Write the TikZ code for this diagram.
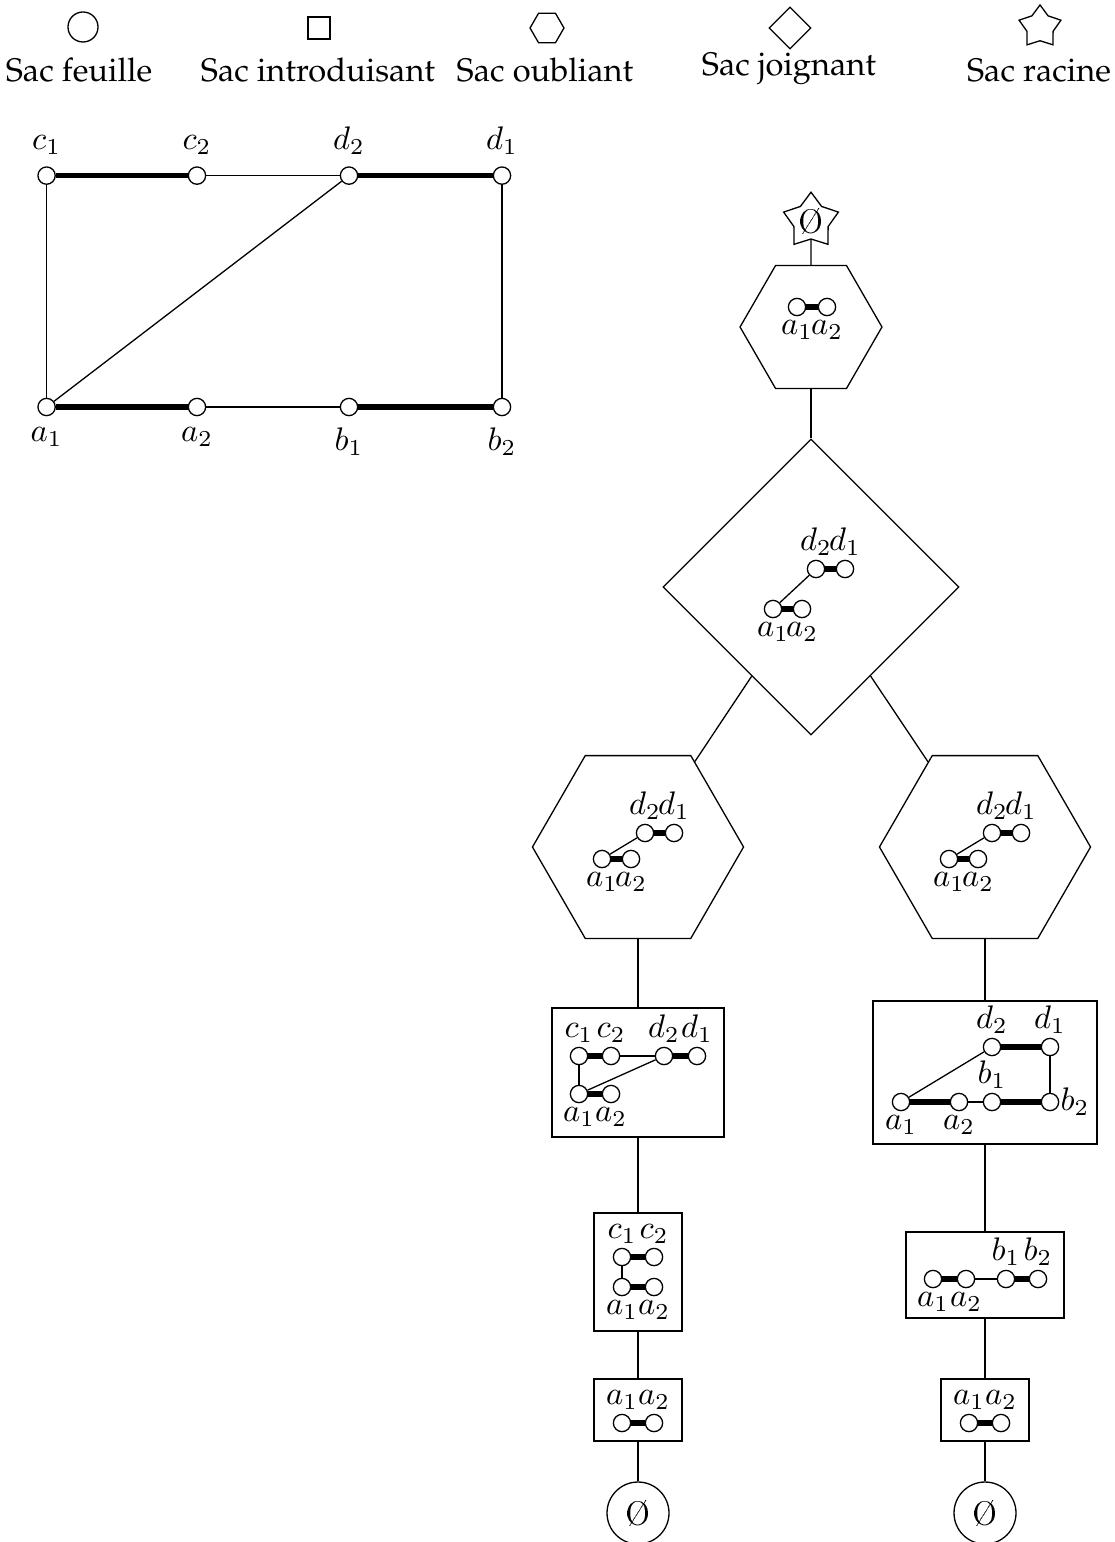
\documentclass[tikz,border=0pt]{standalone}
\usepackage[T1]{fontenc}
\usepackage{palatino}
\usetikzlibrary{shapes.geometric}

\newcommand{\vide}{{\fontfamily{lmr}\selectfont\O}}

\tikzset{
  sommet/.style={circle, draw, fill=white, inner sep=0pt, minimum size=5.3pt},
  lourd/.style={line width=1.6pt},
  lourdp/.style={line width=2pt},
  feuille/.style={circle, draw, inner sep=0pt},
  intro/.style={rectangle, draw, inner sep=0pt},
  oubli/.style={regular polygon, regular polygon sides=6, draw, inner sep=0pt},
  joint/.style={diamond, draw, inner sep=0pt},
  racine/.style={star, star points=5, star point ratio=1.6, draw, inner sep=0pt},
}

\begin{document}
\begin{tikzpicture}[x=0.01077cm, y=-0.01077cm]
\useasboundingbox (0,0) rectangle (1114,1542);

% legende
\node[feuille, minimum size=9.2pt] (lfeuille) at (83,27) {};
\node[intro, minimum size=6.7pt] (lintro) at (319,28) {};
\node[oubli, minimum size=10.4pt] (loubli) at (547,28) {};
\node[joint, minimum width=12.9pt, minimum height=12.9pt] (ljoint) at (790,28) {};
\node[racine, minimum size=13.5pt] (lracine) at (1040,27) {};
\node[anchor=base] (tfeuille) at (79,82) {Sac feuille};
\node[anchor=base] (tintro) at (318,82) {Sac introduisant};
\node[anchor=base] (toubli) at (545,82) {Sac oubliant};
\node[anchor=base] (tjoint) at (789,76) {Sac joignant};
\node[anchor=base] (tracine) at (1039,82) {Sac racine};

% graphe
\node[sommet, label={above:$c_1$}] (c1) at (46.6,175.6) {};
\node[sommet, label={above:$c_2$}] (c2) at (197,175.6) {};
\node[sommet, label={above:$d_2$}] (d2) at (349,175.6) {};
\node[sommet, label={above:$d_1$}] (d1) at (502,175.6) {};
\node[sommet, label={below:$a_1$}] (a1) at (46.6,407) {};
\node[sommet, label={below:$a_2$}] (a2) at (197,407) {};
\node[sommet, label={below:$b_1$}] (b1) at (349,407) {};
\node[sommet, label={below:$b_2$}] (b2) at (502,407) {};
\draw[lourd] (c1) -- (c2);
\draw (c2) -- (d2);
\draw[lourd] (d2) -- (d1);
\draw (c1) -- (a1);
\draw (d1) -- (b2);
\draw[lourd] (a1) -- (a2);
\draw (a2) -- (b1);
\draw[lourd] (b1) -- (b2);
\draw (a1) -- (d2);

% arbre
\node[racine, minimum size=16pt] (r) at (811,221) {\vide};
\node[oubli, minimum size=43.5pt] (o) at (811,327) {};
\node[joint, minimum width=90.7pt, minimum height=90.7pt] (j) at (811,587) {};
\node[oubli, minimum size=64.7pt] (ol) at (638,847) {};
\node[oubli, minimum size=64.7pt] (or) at (985,847) {};
\node[intro, minimum width=52.7pt, minimum height=39.5pt] (il1) at (638,1072.5) {};
\node[intro, minimum width=27pt, minimum height=36.2pt] (il2) at (638,1272) {};
\node[intro, minimum width=27pt, minimum height=19pt] (il3) at (638,1410) {};
\node[feuille, minimum size=19pt] (fl) at (638,1513) {\vide};
\node[intro, minimum width=68.7pt, minimum height=43.8pt] (ir1) at (985,1072.5) {};
\node[intro, minimum width=48.4pt, minimum height=26.4pt] (ir2) at (985,1275) {};
\node[intro, minimum width=27pt, minimum height=19pt] (ir3) at (985,1410) {};
\node[feuille, minimum size=19pt] (fr) at (985,1513) {\vide};
\draw (r) -- (o);
\draw (o) -- (j);
\draw (j) -- (ol);
\draw (j) -- (or);
\draw (ol) -- (il1);
\draw (il1) -- (il2);
\draw (il2) -- (il3);
\draw (il3) -- (fl);
\draw (or) -- (ir1);
\draw (ir1) -- (ir2);
\draw (ir2) -- (ir3);
\draw (ir3) -- (fr);

\begin{scope}[every label/.style={inner sep=1.2pt}]
% sac oubliant du haut
\node[sommet, label={below:$a_1$}] (o-a1) at (797,307) {};
\node[sommet, label={below:$a_2$}] (o-a2) at (827,307) {};
\draw[lourdp] (o-a1) -- (o-a2);
% sac joignant
\node[sommet, label={above:$d_2$}] (j-d2) at (816,569) {};
\node[sommet, label={above:$d_1$}] (j-d1) at (845,569) {};
\node[sommet, label={below:$a_1$}] (j-a1) at (773,609) {};
\node[sommet, label={below:$a_2$}] (j-a2) at (802,609) {};
\draw[lourdp] (j-d2) -- (j-d1);
\draw[lourdp] (j-a1) -- (j-a2);
\draw (j-a1) -- (j-d2);
% sacs oubliants
\node[sommet, label={above:$d_2$}] (ol-d2) at (645,833) {};
\node[sommet, label={above:$d_1$}] (ol-d1) at (674,833) {};
\node[sommet, label={below:$a_1$}] (ol-a1) at (602,859) {};
\node[sommet, label={below:$a_2$}] (ol-a2) at (631,859) {};
\draw[lourdp] (ol-d2) -- (ol-d1);
\draw[lourdp] (ol-a1) -- (ol-a2);
\draw (ol-a1) -- (ol-d2);
\node[sommet, label={above:$d_2$}] (or-d2) at (992,833) {};
\node[sommet, label={above:$d_1$}] (or-d1) at (1021,833) {};
\node[sommet, label={below:$a_1$}] (or-a1) at (949,859) {};
\node[sommet, label={below:$a_2$}] (or-a2) at (978,859) {};
\draw[lourdp] (or-d2) -- (or-d1);
\draw[lourdp] (or-a1) -- (or-a2);
\draw (or-a1) -- (or-d2);
% branche gauche
\node[sommet, label={above:$c_1$}] (il1-c1) at (579,1056) {};
\node[sommet, label={above:$c_2$}] (il1-c2) at (611,1056) {};
\node[sommet, label={above:$d_2$}] (il1-d2) at (664,1056) {};
\node[sommet, label={above:$d_1$}] (il1-d1) at (697,1056) {};
\node[sommet, label={below:$a_1$}] (il1-a1) at (579,1094) {};
\node[sommet, label={below:$a_2$}] (il1-a2) at (611,1094) {};
\draw[lourdp] (il1-c1) -- (il1-c2);
\draw (il1-c2) -- (il1-d2);
\draw[lourdp] (il1-d2) -- (il1-d1);
\draw (il1-c1) -- (il1-a1);
\draw[lourdp] (il1-a1) -- (il1-a2);
\draw (il1-a1) -- (il1-d2);
\node[sommet, label={above:$c_1$}] (il2-c1) at (622,1257) {};
\node[sommet, label={above:$c_2$}] (il2-c2) at (654,1257) {};
\node[sommet, label={below:$a_1$}] (il2-a1) at (622,1287) {};
\node[sommet, label={below:$a_2$}] (il2-a2) at (654,1287) {};
\draw[lourdp] (il2-c1) -- (il2-c2);
\draw[lourdp] (il2-a1) -- (il2-a2);
\draw (il2-c1) -- (il2-a1);
\node[sommet, label={above:$a_1$}] (il3-a1) at (622,1423) {};
\node[sommet, label={above:$a_2$}] (il3-a2) at (654,1423) {};
\draw[lourdp] (il3-a1) -- (il3-a2);
% branche droite
\node[sommet, label={above:$d_2$}] (ir1-d2) at (992,1047) {};
\node[sommet, label={above:$d_1$}] (ir1-d1) at (1050,1047) {};
\node[sommet, label={below:$a_1$}] (ir1-a1) at (901,1102) {};
\node[sommet, label={below:$a_2$}] (ir1-a2) at (959,1102) {};
\node[sommet, label={above:$b_1$}] (ir1-b1) at (992,1102) {};
\node[sommet, label={[label distance=-1pt]right:$b_2$}] (ir1-b2) at (1050,1102) {};
\draw[lourdp] (ir1-d2) -- (ir1-d1);
\draw (ir1-d1) -- (ir1-b2);
\draw[lourdp] (ir1-a1) -- (ir1-a2);
\draw (ir1-a2) -- (ir1-b1);
\draw[lourdp] (ir1-b1) -- (ir1-b2);
\draw (ir1-a1) -- (ir1-d2);
\node[sommet, label={below:$a_1$}] (ir2-a1) at (933,1279) {};
\node[sommet, label={below:$a_2$}] (ir2-a2) at (966,1279) {};
\node[sommet, label={above:$b_1$}] (ir2-b1) at (1006,1279) {};
\node[sommet, label={above:$b_2$}] (ir2-b2) at (1038,1279) {};
\draw[lourdp] (ir2-a1) -- (ir2-a2);
\draw (ir2-a2) -- (ir2-b1);
\draw[lourdp] (ir2-b1) -- (ir2-b2);
\node[sommet, label={above:$a_1$}] (ir3-a1) at (969,1423) {};
\node[sommet, label={above:$a_2$}] (ir3-a2) at (1001,1423) {};
\draw[lourdp] (ir3-a1) -- (ir3-a2);
\end{scope}
\end{tikzpicture}
\end{document}
